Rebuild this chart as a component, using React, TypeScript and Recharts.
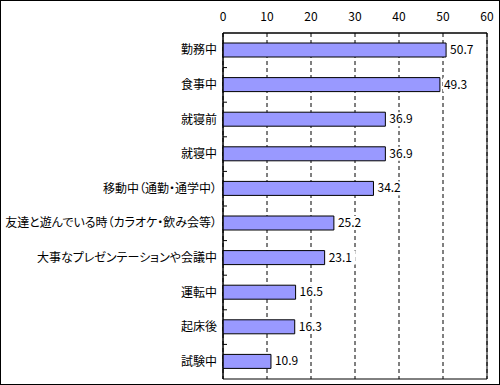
import React from "react";
import {
  BarChart,
  Bar,
  XAxis,
  YAxis,
  CartesianGrid,
  LabelList,
  ReferenceArea,
} from "recharts";

const categories = [
  "勤務中",
  "食事中",
  "就寝前",
  "就寝中",
  "移動中（通勤・通学中）",
  "友達と遊んでいる時（カラオケ・飲み会等）",
  "大事なプレゼンテーションや会議中",
  "運転中",
  "起床後",
  "試験中",
];
const values = [50.7, 49.3, 36.9, 36.9, 34.2, 25.2, 23.1, 16.5, 16.3, 10.9];
const xTicks = [0, 10, 20, 30, 40, 50, 60];

const data = categories.map((name, i) => ({ name, value: values[i] }));

const W = 500;
const H = 385;
const MARGIN = { top: 0, right: 13, bottom: 6, left: 0 };
const X_AXIS_H = 33;
const Y_AXIS_W = 223;
const PLOT_H = H - MARGIN.top - MARGIN.bottom - X_AXIS_H;
const BAND = PLOT_H / categories.length;
const FONT = '"Noto Sans CJK JP", "Noto Sans", sans-serif';

const CatTick = (props: any) => {
  const { x, y, payload, index } = props;
  const last = index === categories.length - 1;
  return (
    <g>
      <text
        x={x}
        y={y}
        dy={4}
        textAnchor="end"
        fontSize={12}
        fill="#000"
        fontFamily={FONT}
        style={{ fontFeatureSettings: '"palt"' }}
      >
        {payload.value}
      </text>
      {!last && (
        <line
          x1={Y_AXIS_W}
          x2={Y_AXIS_W + 4}
          y1={y + BAND / 2}
          y2={y + BAND / 2}
          stroke="#000"
        />
      )}
    </g>
  );
};

const ValueLabel = (props: any) => {
  const { x, y, width, height, value } = props;
  const tx = x + width + 4;
  const cy = y + height / 2;
  const txt = String(value);
  const tw = txt.length * 6.5;
  return (
    <g>
      <rect x={tx - 1} y={cy - 7} width={tw + 2} height={14} fill="#fff" />
      <text
        x={tx}
        y={cy}
        dy={4}
        fontSize={12}
        fill="#000"
        fontFamily={FONT}
      >
        {txt}
      </text>
    </g>
  );
};

export default function App() {
  return (
    <div
      style={{
        position: "absolute",
        left: 0,
        top: 0,
        width: W,
        height: H,
        border: "1px solid #000",
        boxSizing: "border-box",
        background: "#fff",
      }}
    >
      <div style={{ position: "absolute", left: -1, top: -1 }}>
        <BarChart
          width={W}
          height={H}
          data={data}
          layout="vertical"
          margin={MARGIN}
          barSize={14}
        >
          <CartesianGrid
            horizontal={false}
            stroke="#000"
            strokeDasharray="4 3"
          />
          <XAxis
            type="number"
            orientation="top"
            domain={[0, 60]}
            ticks={xTicks}
            height={X_AXIS_H}
            axisLine={{ stroke: "#000" }}
            tickLine={false}
            tickMargin={6}
            tick={{ fontSize: 12, fill: "#000", fontFamily: FONT }}
            interval={0}
          />
          <YAxis
            type="category"
            dataKey="name"
            width={Y_AXIS_W}
            axisLine={{ stroke: "#000" }}
            tickLine={false}
            tickSize={0}
            tickMargin={6}
            tick={<CatTick />}
            interval={0}
          />
          <ReferenceArea
            x1={0}
            x2={60}
            fill="none"
            stroke="#000"
            strokeWidth={1}
          />
          <Bar
            dataKey="value"
            fill="#9999FF"
            stroke="#000"
            strokeWidth={1}
            isAnimationActive={false}
          >
            <LabelList dataKey="value" content={<ValueLabel />} />
          </Bar>
        </BarChart>
      </div>
    </div>
  );
}
